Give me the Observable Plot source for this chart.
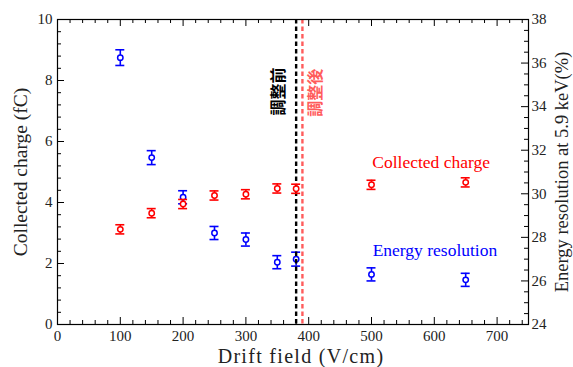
<!DOCTYPE html>
<html><head><meta charset="utf-8">
<script src="https://cdn.jsdelivr.net/npm/d3@7"></script>
<script src="https://cdn.jsdelivr.net/npm/@observablehq/plot@0.6"></script>
<style>body{margin:0;background:#fff}</style>
</head><body><div id="chart"></div>
<script>
// ---- data ----
const driftField = [100, 150, 200, 250, 300, 350, 380, 500, 650];
const collectedCharge = [3.12, 3.65, 3.95, 4.23, 4.27, 4.46, 4.45, 4.58, 4.66];
const chargeError = [0.15, 0.15, 0.15, 0.15, 0.15, 0.15, 0.15, 0.15, 0.15];
const energyResolution = [36.25, 31.66, 29.84, 28.2, 27.9, 26.86, 27.0, 26.3, 26.05];
const resolutionError = [0.36, 0.32, 0.3, 0.3, 0.3, 0.3, 0.32, 0.3, 0.3];
const xTickLabels = [0, 100, 200, 300, 400, 500, 600, 700];
const leftTickLabels = [0, 2, 4, 6, 8, 10];
const rightTickLabels = [24, 26, 28, 30, 32, 34, 36, 38];
const beforeField = 380, afterField = 390;
const markerLabels = ["調整前", "調整後"];

// ---- layout ----
const W = 573, H = 367, mL = 57, mR = 45, mT = 19, mB = 43;
const xMax = 750, yMax = 10, R0 = 24, R1 = 38;
const kx = xMax / (W - mL - mR);   // data units per px (x)
const ky = yMax / (H - mT - mB);   // data units per px (y)
const toLeft = v => (v - R0) * yMax / (R1 - R0);

const charge = driftField.map((x, i) => ({x, y: collectedCharge[i], e: chargeError[i]}));
const reso = driftField.map((x, i) => ({x, y: toLeft(energyResolution[i]), e: toLeft(R0 + resolutionError[i])}));

const xMinor = d3.range(0, 38).map(i => i * 20).filter(d => d % 100 !== 0);
const xMajor = d3.range(0, 8).map(i => i * 100);
const yMinor = d3.range(0, 26).map(i => i * 0.4).filter((d, i) => i % 5 !== 0);
const rMinor = d3.range(0, 29).map(i => R0 + i * 0.5).filter((d, i) => i % 4 !== 0).map(toLeft);
const rMajor = rightTickLabels.map(toLeft);

const big = 7, small = 4;
const serif = "Liberation Serif";
const center = {textAnchor: "middle", lineAnchor: "middle"};
const xTitle = "Drift field (V/cm)";

function errSeries(data, color) {
  const caps = data.flatMap(d => [{x: d.x, y: d.y - d.e}, {x: d.x, y: d.y + d.e}]);
  return [
    Plot.ruleX(data, {x: "x", y1: d => d.y - d.e, y2: d => d.y + d.e, stroke: color, strokeWidth: 1.6}),
    Plot.ruleY(caps, {y: "y", x1: d => d.x - 4.5 * kx, x2: d => d.x + 4.5 * kx, stroke: color, strokeWidth: 1.6}),
    Plot.dot(data, {x: "x", y: "y", r: 2.7, stroke: color, fill: "white", strokeWidth: 1.5})
  ];
}

const plot = Plot.plot({
  width: W, height: H,
  marginLeft: mL, marginRight: mR, marginTop: mT, marginBottom: mB,
  x: {domain: [0, xMax]},
  y: {domain: [0, yMax]},
  style: {fontFamily: serif, fontSize: "15px", background: "white", color: "#222"},
  marks: [
    // ticks (inward)
    Plot.ruleX(xMajor, {x: d => d, y1: 0, y2: big * ky, stroke: "black"}),
    Plot.ruleX(xMinor, {x: d => d, y1: 0, y2: small * ky, stroke: "black"}),
    Plot.ruleX(xMajor, {x: d => d, y1: yMax, y2: yMax - big * ky, stroke: "black"}),
    Plot.ruleX(xMinor, {x: d => d, y1: yMax, y2: yMax - small * ky, stroke: "black"}),
    Plot.ruleY(leftTickLabels, {y: d => d, x1: 0, x2: big * kx, stroke: "black"}),
    Plot.ruleY(yMinor, {y: d => d, x1: 0, x2: small * kx, stroke: "black"}),
    Plot.ruleY(rMajor, {y: d => d, x1: xMax, x2: xMax - big * kx, stroke: "black"}),
    Plot.ruleY(rMinor, {y: d => d, x1: xMax, x2: xMax - small * kx, stroke: "black"}),
    // tick labels
    Plot.axisX(xTickLabels, {anchor: "bottom", tickSize: 0, tickPadding: 6, fontSize: 15, label: null}),
    Plot.axisY(leftTickLabels, {anchor: "left", tickSize: 0, tickPadding: 5, fontSize: 15, label: null}),
    Plot.axisY(rMajor, {anchor: "right", tickSize: 0, tickPadding: 3, fontSize: 15, label: null,
      tickFormat: d => String(Math.round(R0 + d * (R1 - R0) / yMax))}),
    // blue series (under the line)
    ...errSeries(reso, "blue"),
    // vertical dashed lines
    Plot.ruleX([beforeField], {x: d => d, stroke: "black", strokeWidth: 2.4, strokeDasharray: "4.5,3"}),
    Plot.ruleX([afterField], {x: d => d, stroke: "#ff5c5c", strokeWidth: 2.4, strokeDasharray: "4.5,3"}),
    // red series
    ...errSeries(charge, "red"),
    // frame
    Plot.frame({stroke: "black", strokeWidth: 1.2}),
    // vertical Japanese labels
    Plot.text([markerLabels[0]], {x: 353, y: 7.64, text: d => d, rotate: -90, fill: "black",
      fontFamily: "Noto Sans CJK JP", fontWeight: "bold", fontSize: 16}),
    Plot.text([markerLabels[1]], {x: 412, y: 7.6, text: d => d, rotate: -90, fill: "#ff5c5c",
      fontFamily: "Noto Sans CJK JP", fontWeight: "bold", fontSize: 16}),
    // legends
    Plot.text(["Collected charge"], {x: 595, y: 5.3, text: d => d, fill: "red", fontSize: 17.5}),
    Plot.text(["Energy resolution"], {x: 601, y: 2.43, text: d => d, fill: "blue", fontSize: 17.5}),
    // axis titles
    Plot.text([xTitle], {frameAnchor: "bottom", dx: 8, dy: 32, ...center, text: d => d, fontSize: 20, fill: "#222"}),
    Plot.text(["Collected charge (fC)"], {frameAnchor: "left", dx: -37, ...center, rotate: -90, text: d => d, fontSize: 19.5, fill: "#222"}),
    Plot.text(["Energy resolution at 5.9 keV(%)"], {frameAnchor: "right", dx: 34, ...center, rotate: -90, text: d => d, fontSize: 18.5, fill: "#222"})
  ]
});
d3.select(plot).selectAll("text").filter(function() { return this.textContent === xTitle; })
  .attr("letter-spacing", "1.3px");
document.getElementById("chart").append(plot);
</script>
</body></html>
